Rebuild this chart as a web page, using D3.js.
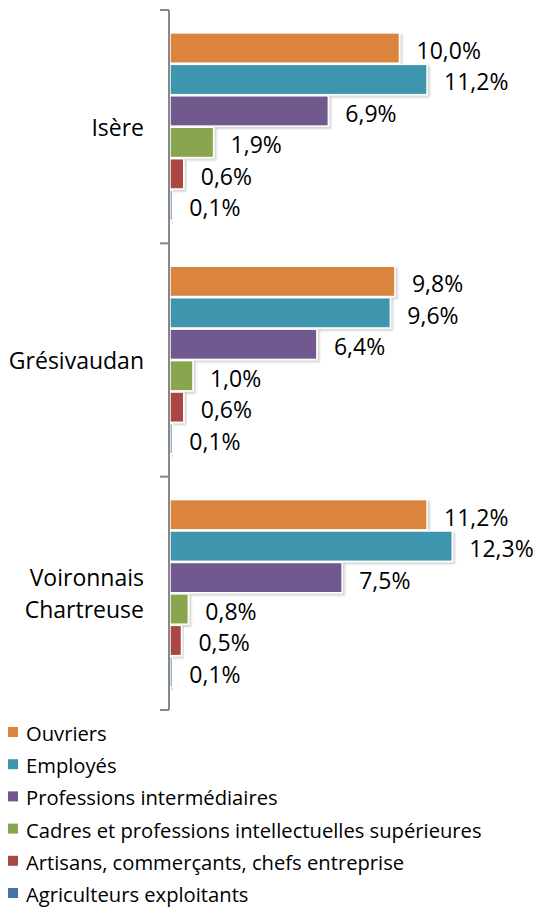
<!DOCTYPE html>
<html>
<head>
<meta charset="utf-8">
<script src="https://cdn.jsdelivr.net/npm/d3@7"></script>
<style>
  body { margin: 0; background: #fff; }
  svg { display: block; font-family: "Open Sans", sans-serif; }
</style>
</head>
<body>
<div id="chart"></div>
<script>
let width = 539;
let height = 909;

// Data
let regions = ["Isère", "Grésivaudan", "Voironnais Chartreuse"];
let regionLines = [["Isère"], ["Grésivaudan"], ["Voironnais", "Chartreuse"]];
let categories = ["Ouvriers", "Employés", "Professions intermédiaires",
  "Cadres et professions intellectuelles supérieures",
  "Artisans, commerçants, chefs entreprise", "Agriculteurs exploitants"];
let colors = ["#DB843D", "#3D96AE", "#71588F", "#89A54E", "#AA4643", "#4572A7"];
let isere = [10.0, 11.2, 6.9, 1.9, 0.6, 0.1];
let gresivaudan = [9.8, 9.6, 6.4, 1.0, 0.6, 0.1];
let voironnais = [11.2, 12.3, 7.5, 0.8, 0.5, 0.1];
let seriesValues = [isere, gresivaudan, voironnais];

let x0 = 170;
let x = d3.scaleLinear().domain([0, 1]).range([x0, x0 + 22.95]);
let y = d3.scaleBand().domain(regions).range([10, 710]);
let yInner = d3.scaleBand().domain(categories).range([0, y.bandwidth()])
  .paddingInner(0.1).paddingOuter(0.76);
let color = d3.scaleOrdinal(categories, colors);

let svg = d3.select("#chart").append("svg")
  .attr("width", width).attr("height", height);

let defs = svg.append("defs");
let f = defs.append("filter").attr("id", "shadow")
  .attr("x", "-10%").attr("y", "-20%").attr("width", "130%").attr("height", "160%");
f.append("feDropShadow").attr("dx", 2).attr("dy", 2).attr("stdDeviation", 1.2)
  .attr("flood-color", "#000").attr("flood-opacity", 0.18);

// Bars
regions.forEach((r, gi) => {
  let g = svg.append("g").attr("transform", "translate(0," + y(r) + ")");
  let rows = categories.map((c, i) => ({ cat: c, value: seriesValues[gi][i] }));

  g.selectAll("rect")
    .data(rows)
    .enter().append("rect")
    .attr("x", x(0))
    .attr("y", d => yInner(d.cat) - 1)
    .attr("width", d => x(d.value) - x(0))
    .attr("height", yInner.bandwidth() + 2)
    .attr("fill", d => color(d.cat))
    .attr("stroke", "#fff")
    .attr("stroke-width", 1.5)
    .attr("filter", "url(#shadow)");

  g.selectAll("text.val")
    .data(rows)
    .enter().append("text")
    .attr("class", "val")
    .attr("x", d => x(d.value) + 17)
    .attr("y", d => yInner(d.cat) + yInner.bandwidth() / 2 + 2)
    .attr("dominant-baseline", "central")
    .attr("font-size", 23)
    .attr("fill", "#000")
    .text(d => d.value.toFixed(1).replace(".", ",") + "%");

  // Category label
  let lines = regionLines[gi];
  let lab = g.append("text")
    .attr("text-anchor", "end")
    .attr("font-size", 23)
    .attr("fill", "#000");
  lines.forEach((l, li) => {
    lab.append("tspan")
      .attr("x", 144)
      .attr("y", y.bandwidth() / 2 + (li - (lines.length - 1) / 2) * 32)
      .attr("dominant-baseline", "central")
      .text(l);
  });
});

// Axis
let axis = svg.append("g").attr("stroke", "#888").attr("stroke-width", 2);
axis.append("line").attr("x1", 169).attr("x2", 169).attr("y1", 10).attr("y2", 710);
let tickYs = regions.map(r => y(r)).concat([y.range()[1]]);
axis.selectAll("line.tick")
  .data(tickYs)
  .enter().append("line")
  .attr("class", "tick")
  .attr("x1", 160).attr("x2", 169)
  .attr("y1", d => d).attr("y2", d => d);

// Legend
let legend = svg.append("g").attr("transform", "translate(8,732)");
let li = legend.selectAll("g")
  .data(categories)
  .enter().append("g")
  .attr("transform", (d, i) => "translate(0," + (i * 32.2) + ")");
li.append("rect")
  .attr("x", 0).attr("y", -5).attr("width", 10).attr("height", 10)
  .attr("fill", d => color(d));
li.append("text")
  .attr("x", 18).attr("y", 1)
  .attr("dominant-baseline", "central")
  .attr("font-size", 20.2)
  .attr("fill", "#000")
  .text(d => d);
</script>
</body>
</html>
